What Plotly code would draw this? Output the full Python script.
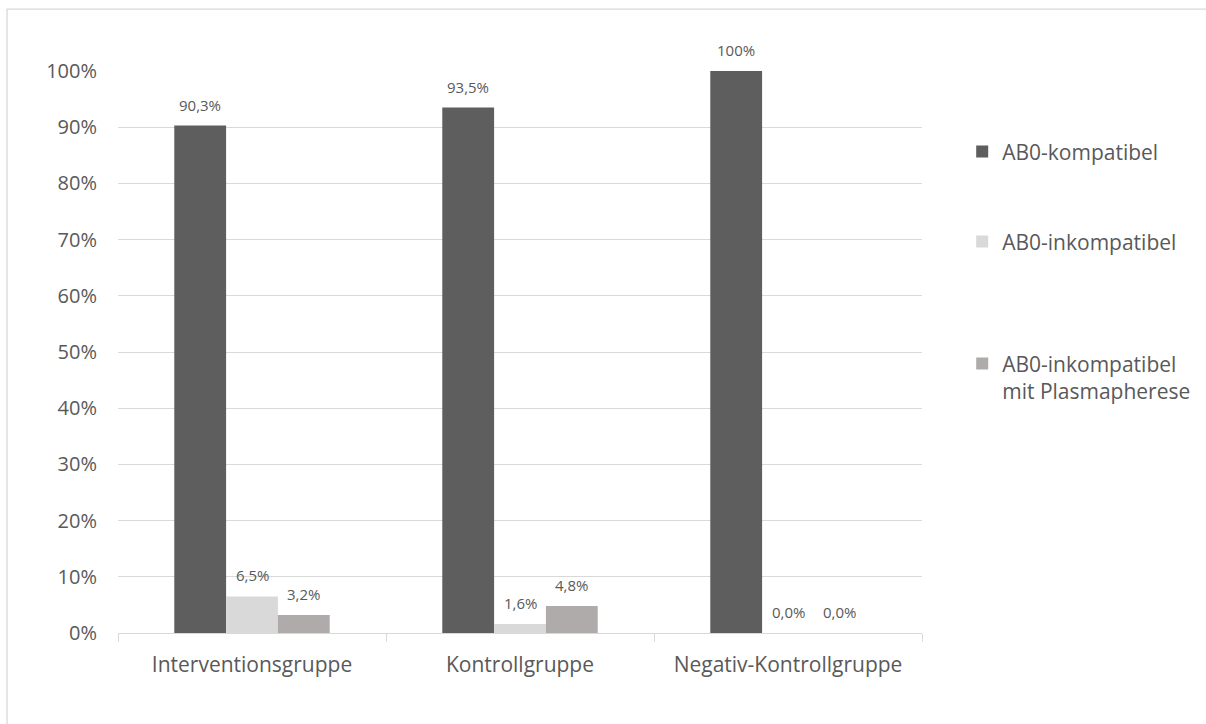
import plotly.graph_objects as go

# Gruppen und Anteile (in %)
categories = ["Interventionsgruppe", "Kontrollgruppe", "Negativ-Kontrollgruppe"]
series_names = ["AB0-kompatibel", "AB0-inkompatibel", "AB0-inkompatibel<br>mit Plasmapherese"]
kompatibel = [90.3, 93.5, 100.0]
inkompatibel = [6.5, 1.6, 0.0]
inkompatibel_plasma = [3.2, 4.8, 0.0]
y_ticks = [0, 10, 20, 30, 40, 50, 60, 70, 80, 90, 100]

series_values = [kompatibel, inkompatibel, inkompatibel_plasma]
colors = ["#5e5e5e", "#d9d9d9", "#afabab"]
legend_ids = ["legend", "legend2", "legend3"]
legend_y = [0.856, 0.696, 0.455]

FONT = "Open Sans"
TEXT = "#595959"
GRID = "#d9d9d9"
BARGAP = 0.42


def fmt(v):
    if v == 100:
        return "100%"
    return f"{v:.1f}%".replace(".", ",")


fig = go.Figure()
for name, vals, col, lg in zip(series_names, series_values, colors, legend_ids):
    fig.add_trace(go.Bar(
        x=categories,
        y=[v / 100 for v in vals],
        name=name,
        marker=dict(color=col, line=dict(width=0)),
        legend=lg,
        showlegend=True,
    ))

# Datenbeschriftungen über den Balken
n = len(series_values)
bar_w = (1 - BARGAP) / n
annotations = []
for s, vals in enumerate(series_values):
    for c, v in enumerate(vals):
        annotations.append(dict(
            x=c + (s - (n - 1) / 2) * bar_w,
            y=v / 100,
            xref="x", yref="y",
            text=fmt(v),
            showarrow=False,
            yanchor="middle",
            yshift=21,
            font=dict(family=FONT, size=15, color=TEXT),
        ))

legend_common = dict(
    x=1.05, xanchor="left", yanchor="middle",
    bgcolor="rgba(0,0,0,0)", valign="top",
    font=dict(family=FONT, size=21, color=TEXT),
)

fig.update_layout(
    width=1206, height=724,
    margin=dict(l=118, r=284, t=71, b=91, autoexpand=False),
    paper_bgcolor="white", plot_bgcolor="white",
    barmode="group", bargap=BARGAP, bargroupgap=0,
    separators=",.",
    showlegend=True,
    font=dict(family=FONT, color=TEXT),
    annotations=annotations,
    legend=dict(y=legend_y[0], **legend_common),
    legend2=dict(y=legend_y[1], **legend_common),
    legend3=dict(y=legend_y[2], **legend_common),
    shapes=[dict(
        type="rect", xref="paper", yref="paper",
        x0=-0.138, x1=1.36, y0=-0.18, y1=1.110,
        line=dict(color=GRID, width=1.3), fillcolor="rgba(0,0,0,0)", layer="below",
    )],
)

fig.update_xaxes(
    type="category", range=[-0.5, 2.5],
    showline=True, linecolor=GRID, linewidth=1.3,
    ticks="outside", tickson="boundaries", ticklen=8, tickcolor=GRID, tickwidth=1.3,
    ticklabelstandoff=13,
    tickfont=dict(family=FONT, size=21, color=TEXT),
    showgrid=False,
)
fig.update_yaxes(
    range=[0, 1], tickvals=[t / 100 for t in y_ticks], tickformat=".0%",
    showgrid=True, gridcolor=GRID, gridwidth=1.3,
    zeroline=False, showline=False, ticks="",
    ticklabelstandoff=20,
    tickfont=dict(family=FONT, size=20, color=TEXT),
)

fig.write_html("out.html")
